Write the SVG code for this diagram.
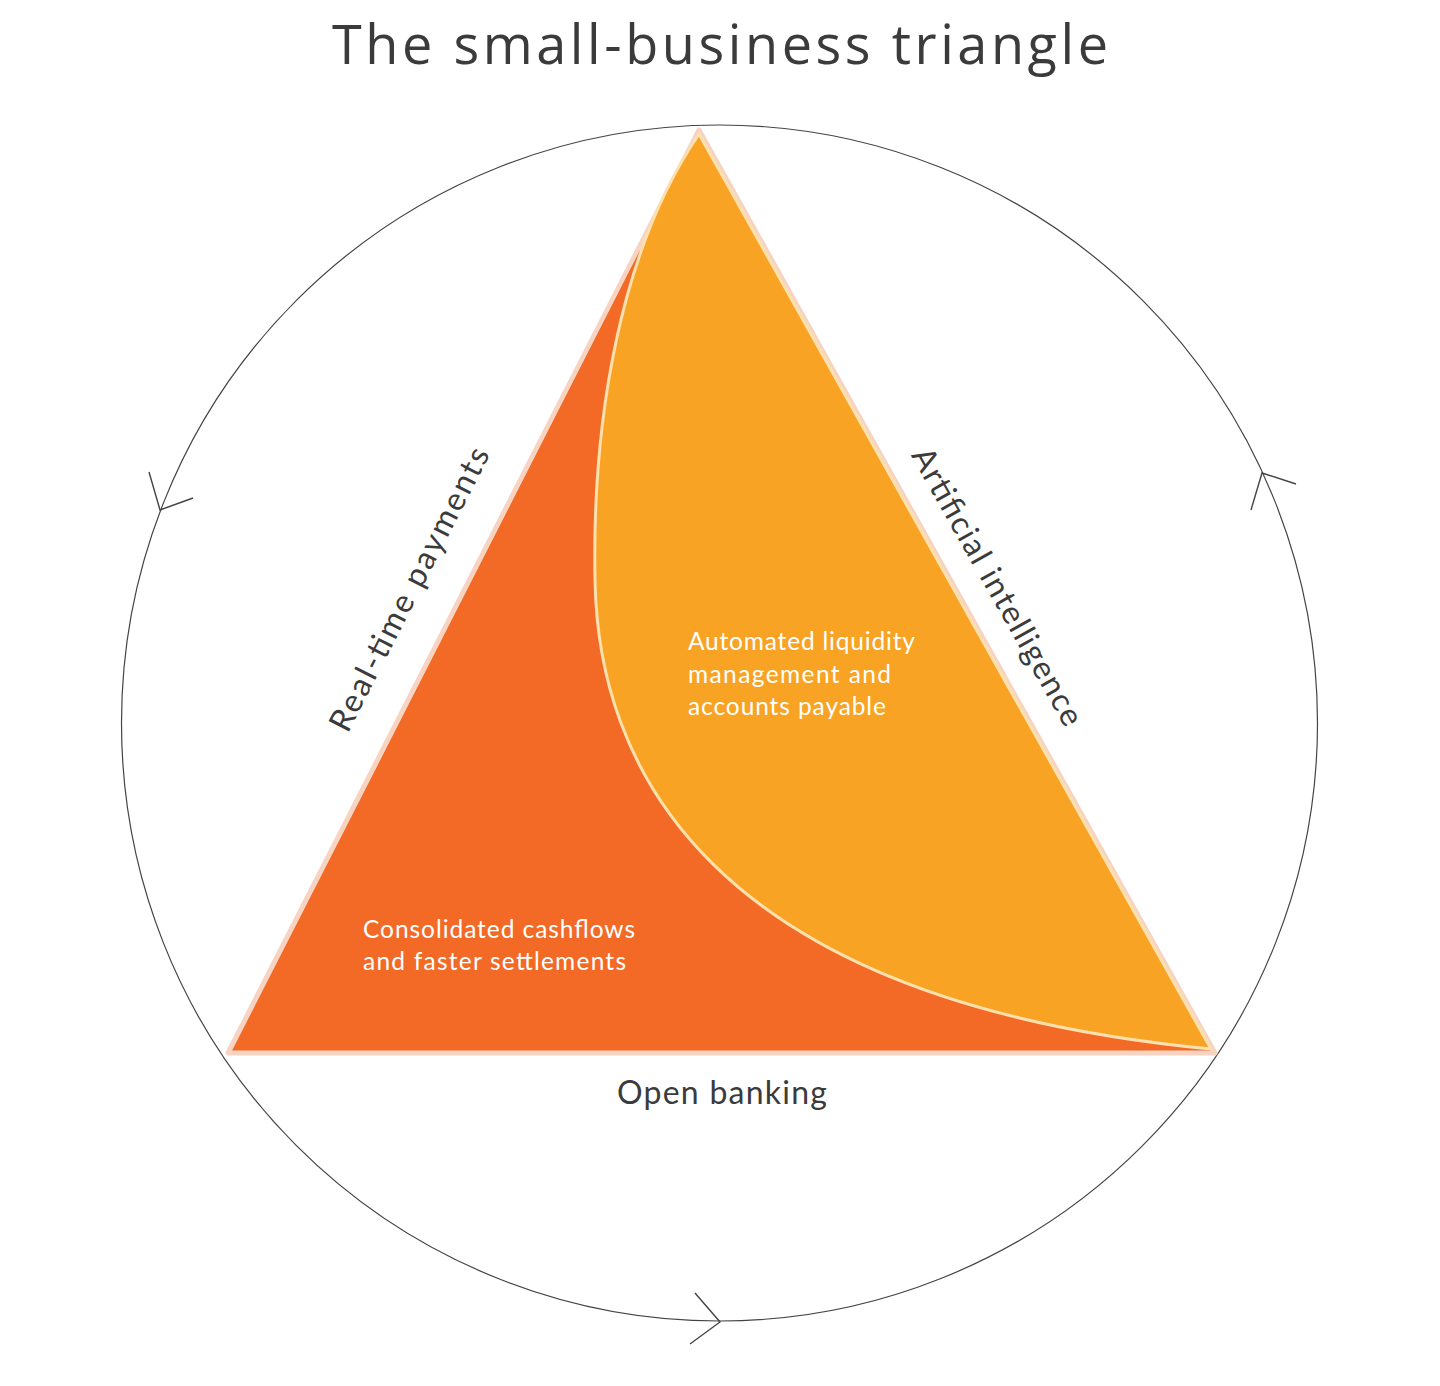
<svg xmlns="http://www.w3.org/2000/svg" width="1440" height="1386" viewBox="0 0 1440 1386">
<style>
.title{font-family:"Open Sans",Lato,sans-serif;font-size:54px;fill:#3b3b3b}
.edge{font-family:Lato,"Noto Sans",sans-serif;font-size:32px;fill:#3b3b3b}
.inner{font-family:Lato,"Noto Sans",sans-serif;font-size:24.5px;fill:#ffffff}
.ring{fill:none;stroke:#444;stroke-width:1.2}
.chev{fill:none;stroke:#444;stroke-width:1.4}
</style>
<rect width="1440" height="1386" fill="#fff"/>
<text class="title" x="332" y="64" textLength="776" lengthAdjust="spacing">The small-business triangle</text>
<g id="connectors">
<circle class="ring" cx="719.5" cy="723" r="598"/>
<path class="chev" d="M149,472 L160,510 L193,498"/>
<path class="chev" d="M1251,510 L1262,473 L1296,484"/>
<path class="chev" d="M695,1293 L720,1322 L690,1344"/>
</g>
<g id="triangle">
<polygon points="699,130 228,1053 1215,1053" fill="#F26A26" stroke="#F7D3C2" stroke-width="5" stroke-linejoin="round"/>
<polygon points="699,134 234,1049 1210,1049" fill="#F26A26"/>
</g>
<g id="ai-region">
<path d="M699,134 L1211,1049 C 700,1000 598,760 595,580 C 592,420 620,250 699,134 Z" fill="#F9A324" stroke="#FCE0AE" stroke-width="3" stroke-linejoin="round"/>
</g>
<g id="label-rtp"><text class="edge" transform="translate(419,594) rotate(-63)" text-anchor="middle" textLength="314" lengthAdjust="spacing">Real-time payments</text></g>
<g id="label-ai"><text class="edge" transform="translate(988,592) rotate(60.5)" text-anchor="middle" textLength="314" lengthAdjust="spacing">Artificial intelligence</text></g>
<g id="label-ob"><text class="edge" x="617" y="1104" textLength="210" lengthAdjust="spacing">Open banking</text></g>
<g id="text-ai">
<text class="inner" x="688" y="650" textLength="227" lengthAdjust="spacing">Automated liquidity</text>
<text class="inner" x="688" y="683" textLength="203" lengthAdjust="spacing">management and</text>
<text class="inner" x="688" y="715" textLength="198" lengthAdjust="spacing">accounts payable</text>
</g>
<g id="text-rtp">
<text class="inner" x="363" y="938" textLength="272" lengthAdjust="spacing">Consolidated cashflows</text>
<text class="inner" x="363" y="970" textLength="263" lengthAdjust="spacing">and faster settlements</text>
</g>
</svg>
